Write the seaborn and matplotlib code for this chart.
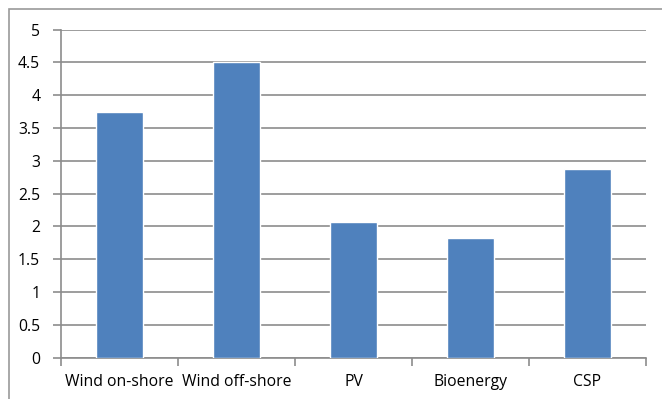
import numpy as np
import pandas as pd
import matplotlib
matplotlib.use("Agg")
import matplotlib.pyplot as plt
from matplotlib.patches import Rectangle
from matplotlib.ticker import FixedLocator
import seaborn as sns

categories = ["Wind on-shore", "Wind off-shore", "PV", "Bioenergy", "CSP"]
values = [3.74, 4.50, 2.06, 1.83, 2.88]
y_ticks = [0, 0.5, 1, 1.5, 2, 2.5, 3, 3.5, 4, 4.5, 5]
y_tick_labels = ["0", "0.5", "1", "1.5", "2", "2.5", "3", "3.5", "4", "4.5", "5"]

df = pd.DataFrame({"technology": categories, "value": values})

sns.set_theme(style="white")
plt.rcParams["font.family"] = ["Open Sans", "DejaVu Sans"]

fig = plt.figure(figsize=(6.62, 3.99), dpi=100)
ax = fig.add_axes([61 / 662, 1 - 357.5 / 399, 585 / 662, 327.8 / 399])

sns.barplot(data=df, x="technology", y="value", color="#4F81BD",
            width=0.4, saturation=1, ax=ax, zorder=3)

grid_c = "#8C8C8C"
ax.set_xlim(-0.5, len(categories) - 0.5)
ax.set_ylim(0, 5)
ax.set_yticks(y_ticks, y_tick_labels)
ax.yaxis.grid(True, color=grid_c, linewidth=1.2, zorder=0)
ax.set_axisbelow(True)

for side in ("top", "right"):
    ax.spines[side].set_visible(False)
for side in ("left", "bottom"):
    ax.spines[side].set_color(grid_c)
    ax.spines[side].set_linewidth(1.2)

ax.set_xlabel("")
ax.set_ylabel("")
ax.xaxis.set_minor_locator(FixedLocator(np.arange(-0.5, len(categories), 1.0)))
ax.tick_params(axis="x", which="major", length=0, pad=12, labelsize=11.3, colors="black")
ax.tick_params(axis="x", which="minor", length=6, width=1.2, color=grid_c, direction="out", bottom=True)
ax.tick_params(axis="y", which="major", length=6, width=1.2, color=grid_c, direction="out",
               left=True, pad=9, labelsize=11.3, labelcolor="black")

# chart-area frame
fig.patches.append(Rectangle((9 / 662, -0.05), 1.2, (399 - 9) / 399 + 0.05,
                             transform=fig.transFigure, fill=False,
                             edgecolor="#9A9A9A", linewidth=1.2))

fig.savefig("out.png", dpi=100)
